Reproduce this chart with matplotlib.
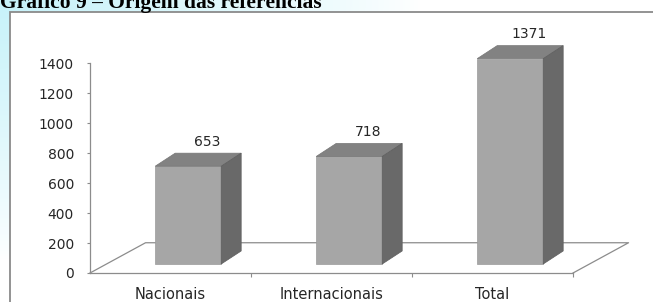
import matplotlib.pyplot as plt
import numpy as np
from matplotlib.patches import Polygon

categories = ["Nacionais", "Internacionais", "Total"]
values = [653, 718, 1371]
y_ticks = [0, 200, 400, 600, 800, 1000, 1200, 1400]
title = "Gráfico 9 – Origem das referências"

FRONT = "#a6a6a6"
TOP = "#828282"
SIDE = "#696969"
LINE = "#8c8c8c"
INK = "#262626"

# fake 3d projection, in data units
BASE = 60
BAR_W = 0.41
BAR_DX = 0.124
BAR_DY = 87
FLOOR_DX = 0.345
FLOOR_DY = 202

W, H = 653, 302
fig = plt.figure(figsize=(W / 100, H / 100), dpi=100)

# page background: faint cyan glow in the top left corner
bg = fig.add_axes([0, 0, 1, 1])
yy, xx = np.mgrid[0:H, 0:W]
glow = np.clip(1 - np.hypot(xx / 420.0, yy / 260.0), 0, 1) ** 0.8
cyan = np.array([0.78, 0.95, 0.98])
img = 1 - glow[..., None] * (1 - cyan)
bg.imshow(img, extent=[0, W, H, 0], aspect="auto")
bg.add_patch(plt.Rectangle((10, 12), W + 20, H + 20, facecolor="white", edgecolor="#8a8a8a", linewidth=1.3))
bg.set_xlim(0, W)
bg.set_ylim(H, 0)
bg.axis("off")

fig.text(0.0, 1 - 8 / H, title, fontsize=15.5, fontweight="bold",
         family=["Liberation Serif", "DejaVu Serif"], va="baseline", ha="left", color="black")

ax = fig.add_axes([90 / W, (H - 273) / H, 483 / W, 209.7 / H])
ax.set_facecolor("none")
ax.set_xlim(0, 3)
ax.set_ylim(0, 1400)

# floor
n = len(categories)
floor = [(0, 0), (FLOOR_DX, FLOOR_DY), (n + FLOOR_DX, FLOOR_DY), (n, 0)]
ax.plot(*zip(*floor), color=LINE, linewidth=0.9, clip_on=False, zorder=1)

centers = np.arange(n) + 0.61
bars = ax.bar(centers, values, bottom=BASE, width=BAR_W, color=FRONT,
              edgecolor="#9a9a9a", linewidth=0.5, zorder=3, clip_on=False)

for bar, value in zip(bars, values):
    left = bar.get_x()
    right = left + bar.get_width()
    top = BASE + value
    ax.add_patch(Polygon([(left, top), (right, top), (right + BAR_DX, top + BAR_DY),
                          (left + BAR_DX, top + BAR_DY)], closed=True,
                         facecolor=TOP, edgecolor="#767676", linewidth=0.5, zorder=3, clip_on=False))
    ax.add_patch(Polygon([(right, BASE), (right, top), (right + BAR_DX, top + BAR_DY),
                          (right + BAR_DX, BASE + BAR_DY)], closed=True,
                         facecolor=SIDE, edgecolor="#5e5e5e", linewidth=0.5, zorder=3, clip_on=False))
    ax.text(bar.get_x() + bar.get_width() / 2 + 0.12, top + BAR_DY + 75, f"{value}",
            ha="center", va="center", fontsize=10, color=INK, clip_on=False)

for side in ("top", "right"):
    ax.spines[side].set_visible(False)
for side in ("left", "bottom"):
    ax.spines[side].set_color(LINE)
    ax.spines[side].set_linewidth(0.9)

ax.set_yticks(y_ticks)
ax.set_yticklabels([str(t) for t in y_ticks])
ax.tick_params(axis="y", length=2.5, width=0.8, color=LINE, pad=9, labelsize=10, labelcolor=INK)

ax.set_xticks(np.arange(n) + 0.5)
ax.set_xticklabels(categories)
ax.set_xticks(np.arange(1, n + 1), minor=True)
ax.tick_params(axis="x", which="major", length=0, pad=10, labelsize=10.5, labelcolor=INK)
ax.tick_params(axis="x", which="minor", length=3, width=0.8, color=LINE)

fig.savefig("out.png", dpi=100)
